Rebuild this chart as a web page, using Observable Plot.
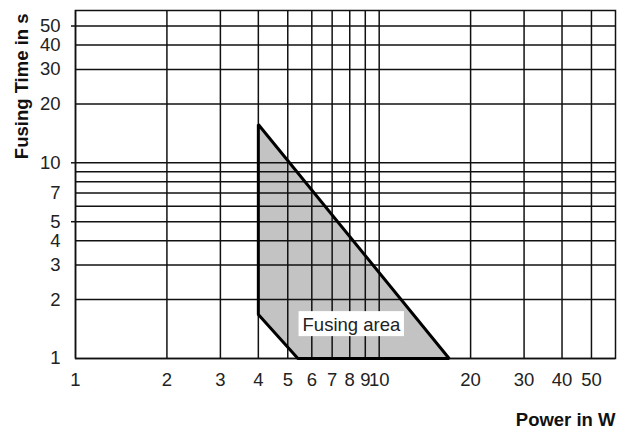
<!DOCTYPE html>
<html>
<head>
<meta charset="utf-8">
<script src="https://cdn.jsdelivr.net/npm/d3@7"></script>
<script src="https://cdn.jsdelivr.net/npm/@observablehq/plot@0.6"></script>
<style>
  html, body { margin: 0; padding: 0; background: #fff; }
</style>
</head>
<body>
<script>
// Grid values (log-log chart)
const xGrid = [1, 2, 3, 4, 5, 6, 7, 8, 9, 10, 20, 30, 40, 50];
const yGrid = [1, 2, 3, 4, 5, 6, 7, 8, 9, 10, 20, 30, 40, 50];
// Tick labels
const xTickLabels = [1, 2, 3, 4, 5, 6, 7, 8, 9, 10, 20, 30, 40, 50];
const yTickLabels = [1, 2, 3, 4, 5, 7, 10, 20, 30, 40, 50];
const yTickMarks = [5, 10, 50];
// Fusing area polygon vertices
const areaPower = [4, 17, 5.4, 4];
const areaTime = [15.7, 1, 1, 1.68];
// Annotation
const areaLabel = ["Fusing area"];
const areaLabelPower = [8.1];
const areaLabelTime = [1.38];
// Axis titles
const xTitle = ["Power in W"];
const yTitle = ["Fusing Time in s"];

const area = areaPower.map((p, i) => ({power: p, time: areaTime[i]}));
const labelData = areaLabel.map((t, i) => ({text: t, power: areaLabelPower[i], time: areaLabelTime[i]}));

const gridColor = "#111";
const textColor = "#222";
const fmt = d => String(d);

const chart = Plot.plot({
  width: 617,
  height: 429,
  marginLeft: 75,
  marginRight: 2,
  marginTop: 10,
  marginBottom: 71,
  style: {
    fontFamily: "'Liberation Sans', Arial, Helvetica, sans-serif",
    fontSize: "18.5px",
    color: textColor,
    background: "#fff"
  },
  x: {type: "log", domain: [1, 60], axis: null},
  y: {type: "log", domain: [1, 60], axis: null},
  marks: [
    Plot.line(area, {x: "power", y: "time", curve: "linear-closed", fill: "#c3c3c3", stroke: "none"}),
    Plot.ruleX(xGrid, {stroke: gridColor, strokeWidth: 1.5}),
    Plot.ruleY(yGrid, {stroke: gridColor, strokeWidth: 1.5}),
    Plot.frame({stroke: gridColor, strokeWidth: 1.5}),
    Plot.line(area, {x: "power", y: "time", curve: "linear-closed", fill: "none", stroke: "#000", strokeWidth: 3, strokeLinejoin: "miter"}),
    // short outside tick marks on the y axis
    Plot.axisY({ticks: yTickMarks, tickSize: 4, tickFormat: () => "", label: null, stroke: gridColor, strokeWidth: 1.5}),
    // tick labels
    Plot.text(xTickLabels, {x: d => d, text: fmt, frameAnchor: "bottom", lineAnchor: "top", dy: 14, fill: textColor}),
    Plot.text(yTickLabels, {y: d => d, text: fmt, frameAnchor: "left", textAnchor: "end", lineAnchor: "middle", dx: -15, fill: textColor}),
    // annotation
    Plot.text(labelData, {x: "power", y: "time", text: "text", textAnchor: "middle", lineAnchor: "bottom", fill: textColor}),
    // axis titles
    Plot.text(yTitle, {text: d => d, frameAnchor: "top-left", rotate: -90, textAnchor: "end", lineAnchor: "bottom", dx: -48, dy: 3, fontWeight: "bold", fill: "#111"}),
    Plot.text(xTitle, {text: d => d, frameAnchor: "bottom-right", textAnchor: "end", lineAnchor: "bottom", dx: 0, dy: 67, fontWeight: "bold", fill: "#111"})
  ]
});

document.body.append(chart);

// White box behind the area label, sized from the rendered text
d3.select(chart).selectAll("text")
  .filter(function() { return this.textContent === areaLabel[0]; })
  .each(function() {
    const bb = this.getBBox();
    const rect = document.createElementNS("http://www.w3.org/2000/svg", "rect");
    rect.setAttribute("x", bb.x - 4);
    rect.setAttribute("y", bb.y - 3);
    rect.setAttribute("width", bb.width + 7);
    rect.setAttribute("height", bb.height + 4);
    rect.setAttribute("fill", "#fff");
    const tr = this.getAttribute("transform");
    if (tr) rect.setAttribute("transform", tr);
    this.parentNode.insertBefore(rect, this);
  });
</script>
</body>
</html>
